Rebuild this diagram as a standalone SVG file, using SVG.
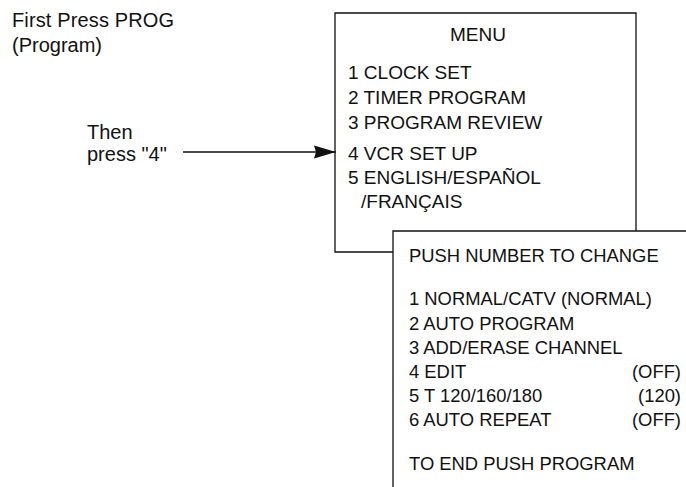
<svg xmlns="http://www.w3.org/2000/svg" width="686" height="487" viewBox="0 0 686 487">
<style>
text{font-family:"Liberation Sans",Arial,sans-serif;font-size:19px;fill:#111}
.big{font-size:20px}
.sm{font-size:18.4px}
.ln{stroke:#111;stroke-width:1.3;fill:none}
</style>
<defs>
<marker id="ah" markerWidth="24" markerHeight="14" refX="22" refY="7" orient="auto" markerUnits="userSpaceOnUse">
<path d="M0,0.5 L22,7 L0,13.5 L2,7 Z" fill="#111"/>
</marker>
</defs>
<rect width="686" height="487" fill="#fff"/>
<g id="intro" class="big">
<text class="big" x="12" y="27" textLength="162">First Press PROG</text>
<text class="big" x="12" y="52">(Program)</text>
</g>
<g id="then">
<text class="big" x="87" y="139">Then</text>
<text class="big" x="87" y="161">press "4"</text>
</g>
<g id="menu">
<path class="ln" d="M393,252 H335 V13 H636 V231"/>
<text x="478" y="41" text-anchor="middle">MENU</text>
<text x="348" y="79">1 CLOCK SET</text>
<text x="348" y="104">2 TIMER PROGRAM</text>
<text x="348" y="129">3 PROGRAM REVIEW</text>
<text x="348" y="160">4 VCR SET UP</text>
<text x="348" y="184">5 ENGLISH/ESPAÑOL</text>
<text x="361" y="208">/FRANÇAIS</text>
</g>
<g id="setup">
<path class="ln" d="M686,231 H393 V487"/>
<text class="sm" x="409" y="262">PUSH NUMBER TO CHANGE</text>
<text class="sm" x="409" y="305">1 NORMAL/CATV (NORMAL)</text>
<text class="sm" x="409" y="330">2 AUTO PROGRAM</text>
<text class="sm" x="409" y="354">3 ADD/ERASE CHANNEL</text>
<text class="sm" x="409" y="378">4 EDIT</text>
<text class="sm" x="681" y="378" text-anchor="end">(OFF)</text>
<text class="sm" x="409" y="402">5 T 120/160/180</text>
<text class="sm" x="681" y="402" text-anchor="end">(120)</text>
<text class="sm" x="409" y="426">6 AUTO REPEAT</text>
<text class="sm" x="681" y="426" text-anchor="end">(OFF)</text>
<text class="sm" x="409" y="470">TO END PUSH PROGRAM</text>
</g>
<g id="connectors">
<line class="ln" x1="183" y1="152" x2="336" y2="152" marker-end="url(#ah)"/>
</g>
</svg>
